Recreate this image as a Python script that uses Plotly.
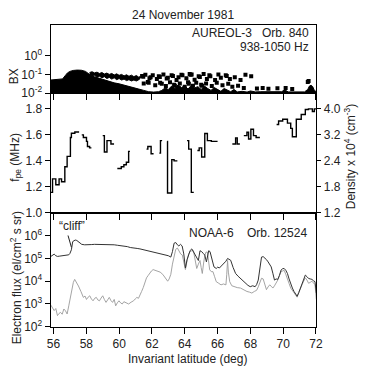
import plotly.graph_objects as go

W, H = 366, 373
def pxx(x): return x / W
def pyy(y): return 1 - y / H

FONT = "Liberation Sans, Arial, sans-serif"

# ---------------- data ----------------
lat_ticks = [56, 58, 60, 62, 64, 66, 68, 70, 72]

# Panel 1: BX intensity envelope (log10) of the solid black region
bx_lat = [55.82, 56.0, 56.3, 56.55, 56.7, 56.85, 57.0, 57.2, 57.45, 57.7, 57.95, 58.1, 58.3, 58.5,
          58.8, 59.1, 59.4, 59.7, 60.0, 60.3, 60.6, 60.9, 61.2, 61.5, 61.8, 62.1, 62.4,
          62.6, 62.8, 63.0, 63.2, 63.4, 63.6, 63.8, 64.0, 64.2, 64.4, 64.6, 64.8, 65.0,
          65.2, 65.4, 65.6, 65.8, 66.0, 66.2, 66.4, 66.6, 66.8, 67.0, 67.2, 67.5, 67.8,
          68.0, 68.3, 68.6, 69.0, 69.3, 69.6, 69.9, 70.1, 70.3, 70.6, 71.0, 71.3, 71.5,
          71.6, 71.7, 71.8, 71.9, 72.02]
bx_log = [-1.30, -1.29, -1.27, -1.24, -1.08, -0.92, -0.84, -0.79, -0.77, -0.78, -0.84, -0.93, -1.07, -1.13,
          -1.22, -1.30, -1.38, -1.45, -1.50, -1.58, -1.65, -1.72, -1.78, -1.85, -1.92, -1.94, -1.92,
          -1.85, -1.72, -1.80, -1.62, -1.75, -1.55, -1.70, -1.60, -1.78, -1.58, -1.72, -1.65, -1.80,
          -1.62, -1.75, -1.85, -1.70, -1.82, -1.90, -1.75, -1.85, -1.92, -1.80, -1.93, -1.90, -1.94,
          -1.88, -1.93, -1.92, -1.93, -1.90, -1.93, -1.92, -1.82, -1.93, -1.93, -1.92, -1.93, -1.80,
          -1.62, -1.58, -1.65, -1.85, -1.92]
# detached upper BX band (log10 bounds)
band_lat = [58.2, 58.35, 58.5, 58.65, 58.8, 58.95, 59.1, 59.25, 59.4, 59.55, 59.7, 59.85, 60.0, 60.15,
            60.3, 60.45, 60.6, 60.75, 60.9, 61.05, 61.2, 61.3]
band_hi = [-0.90, -0.86, -0.92, -0.88, -0.95, -0.90, -0.98, -0.93, -1.00, -0.95, -1.03, -0.97, -1.05, -1.00,
           -1.08, -1.02, -1.10, -1.04, -1.12, -1.06, -1.15, -1.10]
band_lo = [-1.02, -1.10, -1.05, -1.15, -1.10, -1.18, -1.12, -1.22, -1.16, -1.25, -1.18, -1.28, -1.22, -1.30,
           -1.25, -1.33, -1.28, -1.35, -1.30, -1.35, -1.28, -1.20]
# scattered BX blobs
dot_lat = [61.4, 61.47, 61.6, 61.85, 61.92, 62.05, 62.3, 62.42, 62.48, 62.7, 62.9, 62.97, 63.2, 63.28,
           63.5, 63.62, 63.8, 63.86, 64.1, 64.3, 64.36, 64.42, 64.6, 64.85, 64.92, 65.15, 65.35, 65.5,
           65.56, 65.85, 66.05, 66.2, 66.5, 66.56, 66.75, 67.05, 67.4, 67.7, 68.05,
           61.5, 61.75, 61.8, 62.2, 62.5, 62.6, 62.85, 63.1, 63.35, 63.4, 63.7, 64.0, 64.2, 64.25,
           64.5, 64.7, 65.0, 65.05, 65.3, 65.65, 65.95, 66.3, 66.65, 66.9, 67.25, 67.6, 68.4, 68.75,
           69.1, 69.65, 70.15, 70.55, 71.5, 71.55]
dot_log = [-1.08, -1.12, -1.02, -1.20, -1.15, -1.05, -1.25, -1.10, -1.14, -1.00, -1.22, -1.18, -1.05, -1.08,
           -1.30, -1.15, -1.02, -1.05, -1.20, -0.98, -1.02, -1.00, -1.28, -1.10, -1.14, -0.98, -1.25, -1.05,
           -1.10, -1.30, -1.00, -1.18, -1.05, -1.08, -1.25, -1.15, -1.30, -1.02, -1.10,
           -1.48, -1.40, -1.45, -1.58, -1.45, -1.50, -1.62, -1.42, -1.55, -1.60, -1.48, -1.65, -1.42, -1.50,
           -1.60, -1.45, -1.55, -1.60, -1.48, -1.62, -1.45, -1.58, -1.50, -1.65, -1.60, -1.72, -1.75, -1.72,
           -1.76, -1.74, -1.72, -1.78, -1.40, -1.35]

# Panel 2: f_pe step trace (None = data gap)
fpe_lat = [55.84, 55.94, 56.14, 56.34, 56.49, 56.69, 56.83, 57.03, 57.09, 57.30, 57.56, None,
           57.72, 57.82, 58.01, 58.07, 58.20, 58.31, None,
           59.00, 59.10, 59.26, 59.50, 59.69, None,
           59.89, 60.13, 60.29, 60.44, 60.58, 60.66, None,
           61.67, 61.75, 61.95, 62.10, None,
           62.45, 62.52, 62.62, None,
           62.93, 62.95, 63.21, 63.35, 63.55, None,
           64.14, 64.24, 64.40, 64.55, None,
           64.77, 64.88, 65.03, 65.22, 65.38, 65.62, 66.00, None,
           66.90, 67.10, 67.20, 67.36, None,
           67.60, 67.79, 67.89, 68.03, 68.19, 68.35, 68.58, None,
           69.60, 69.72, 69.97, 70.26, 70.46, 70.56, 70.80, 71.10, 71.35, 71.54, 71.78, 71.90, 72.02]
fpe_val = [1.158, 1.262, 1.216, 1.262, 1.240, 1.355, 1.435, 1.580, 1.612, 1.622, 1.622, None,
           1.600, 1.580, 1.550, 1.510, 1.500, 1.500, None,
           1.594, 1.468, 1.556, 1.530, 1.530, None,
           1.342, 1.355, 1.370, 1.390, 1.473, 1.473, None,
           1.490, 1.510, 1.455, 1.455, None,
           1.460, 1.556, 1.556, None,
           1.550, 1.153, 1.410, 1.400, 1.400, None,
           1.556, 1.490, 1.158, 1.158, None,
           1.480, 1.500, 1.430, 1.610, 1.556, 1.550, 1.550, None,
           1.530, 1.577, 1.530, 1.530, None,
           1.594, 1.620, 1.568, 1.643, 1.594, 1.580, 1.580, None,
           1.680, 1.707, 1.720, 1.690, 1.650, 1.586, 1.720, 1.757, 1.795, 1.800, 1.780, 1.800, 1.800]
fpe_ticks = [1.0, 1.2, 1.4, 1.6, 1.8]
fpe_ticktext = ["1.0", "1.2", "1.4", "1.6", "1.8"]
dens_ticktext = ["1.2", "1.8", "2.4", "3.2", "4.0"]

# Panel 3: electron flux (log10), solid and dotted channels
flux1_lat = [55.84, 55.94, 56.04, 56.14, 56.24, 56.35, 56.53, 56.7, 56.85, 56.93, 57.0, 57.09, 57.17,
             57.25, 57.32, 57.42, 57.52, 57.62, 57.72, 57.9, 58.11, 58.3, 58.5, 58.71, 58.9, 59.1,
             59.3, 59.5, 59.7, 59.89, 60.1, 60.3, 60.5, 60.68, 60.9, 61.1, 61.27, 61.5, 61.75,
             62.0, 62.26, 62.5, 62.7, 62.85, 63.0, 63.15, 63.25, 63.35, 63.45, 63.55, 63.64, 63.74,
             63.84, 63.94, 64.04, 64.14, 64.24, 64.33, 64.43, 64.53, 64.63, 64.73, 64.83, 64.93,
             65.03, 65.13, 65.22, 65.32, 65.46, 65.54, 65.62, 65.7, 65.78, 65.92, 66.01, 66.11,
             66.21, 66.31, 66.41, 66.51, 66.61, 66.7, 66.8, 66.95, 67.1, 67.25, 67.4, 67.55, 67.69,
             67.85, 67.99, 68.14, 68.29, 68.38, 68.48, 68.58, 68.68, 68.78, 68.88, 68.98, 69.08,
             69.18, 69.27, 69.37, 69.47, 69.57, 69.67, 69.77, 69.87, 69.97, 70.06, 70.16, 70.26,
             70.36, 70.46, 70.56, 70.66, 70.75, 70.85, 70.95, 71.05, 71.15, 71.25, 71.35, 71.45,
             71.55, 71.65, 71.75, 71.85, 71.94, 72.02]
flux1_log = [5.09, 5.15, 5.19, 5.12, 5.09, 5.10, 5.12, 5.11, 5.14, 5.16, 5.22, 5.38, 5.74,
             5.78, 5.81, 5.79, 5.74, 5.68, 5.62, 5.60, 5.59, 5.61, 5.62, 5.62, 5.63, 5.62,
             5.62, 5.61, 5.60, 5.58, 5.57, 5.54, 5.52, 5.48, 5.47, 5.44, 5.42, 5.38, 5.33,
             5.30, 5.25, 5.22, 5.19, 5.17, 5.12, 5.06, 5.30, 5.67, 5.70, 5.60, 5.55, 5.62,
             5.55, 5.20, 4.58, 4.95, 5.20, 5.35, 5.42, 5.30, 5.13, 5.05, 4.91, 5.34,
             5.30, 5.22, 5.15, 4.85, 5.34, 5.30, 5.06, 4.80, 4.63, 4.56, 4.62, 4.58,
             4.65, 4.71, 4.80, 4.88, 5.00, 4.95, 4.92, 4.60, 4.34, 4.22, 4.12, 4.02, 3.91,
             3.82, 3.76, 3.80, 3.76, 3.85, 4.05, 4.60, 5.06, 5.08, 5.02, 4.95, 4.85,
             4.72, 4.63, 4.35, 4.05, 4.10, 4.08, 4.25, 4.49, 4.55, 4.56, 4.48, 4.34,
             4.10, 3.84, 3.70, 3.55, 3.45, 3.34, 3.50, 3.70, 3.95, 4.15, 4.27, 4.20,
             4.12, 4.10, 4.08, 4.02, 3.98, 3.48]
flux2_lat = [55.84, 55.94, 56.04, 56.14, 56.24, 56.33, 56.43, 56.53, 56.63, 56.73, 56.83, 56.93,
             57.03, 57.13, 57.21, 57.29, 57.4, 57.52, 57.67, 57.82, 57.92, 58.01, 58.11, 58.21,
             58.31, 58.41, 58.51, 58.61, 58.7, 58.8, 58.9, 59.0, 59.1, 59.2, 59.3, 59.4, 59.5,
             59.6, 59.7, 59.79, 59.89, 59.99, 60.09, 60.19, 60.29, 60.39, 60.49, 60.58, 60.73,
             60.88, 60.98, 61.08, 61.18, 61.27, 61.37, 61.47, 61.57, 61.67, 61.77, 61.87, 61.97,
             62.07, 62.2, 62.36, 62.5, 62.66, 62.8, 62.96, 63.05, 63.15, 63.25, 63.35, 63.45,
             63.55, 63.65, 63.75, 63.85, 63.95, 64.04, 64.14, 64.24, 64.33, 64.43, 64.53, 64.63,
             64.73, 64.83, 64.93, 65.0, 65.07, 65.15, 65.22, 65.3, 65.38, 65.45, 65.52, 65.62,
             65.72, 65.82, 65.92, 66.05, 66.21, 66.36, 66.51, 66.56, 66.61, 66.66, 66.74, 66.87,
             67.0, 67.2, 67.4, 67.6, 67.79, 67.95, 68.09, 68.24, 68.38, 68.48, 68.58, 68.68,
             68.78, 68.88, 68.98, 69.08, 69.18, 69.27, 69.37, 69.47, 69.57, 69.67, 69.77, 69.87,
             69.97, 70.06, 70.16, 70.26, 70.36, 70.46, 70.56, 70.66, 70.75, 70.85, 70.95, 71.05,
             71.15, 71.25, 71.35, 71.45, 71.55, 71.65, 71.75, 71.85, 71.94, 72.02]
flux2_log = [2.95, 2.85, 2.71, 2.80, 2.49, 2.58, 2.63, 2.55, 2.78, 2.70, 2.56, 2.92,
             3.30, 3.72, 3.95, 4.08, 3.95, 3.79, 3.55, 3.29, 3.35, 3.20, 3.30, 3.36,
             3.22, 3.14, 3.25, 3.29, 3.18, 3.14, 3.26, 3.36, 3.20, 3.07, 3.18, 3.29, 3.15,
             3.07, 3.20, 2.92, 3.05, 3.14, 3.05, 3.00, 3.10, 3.07, 3.02, 3.00, 3.08,
             3.14, 3.22, 3.29, 3.25, 3.43, 3.55, 3.72, 3.95, 4.15, 4.25, 4.37, 4.45,
             4.51, 4.48, 4.44, 4.40, 4.30, 4.15, 4.00, 4.10, 4.30, 4.75, 5.17, 5.40,
             5.46, 5.35, 5.20, 5.15, 4.85, 4.51, 4.90, 5.20, 5.30, 5.34, 5.34, 4.90,
             4.56, 4.75, 4.91, 4.60, 4.34, 4.80, 5.13, 5.28, 5.28, 4.90, 4.50, 4.42,
             4.42, 4.20, 3.98, 3.92, 3.84, 3.88, 3.84, 4.30, 4.91, 4.40, 3.98, 3.80,
             3.76, 3.72, 3.70, 3.62, 3.55, 3.52, 3.48, 3.55, 3.60, 3.75, 3.98, 4.13,
             4.10, 3.85, 3.63, 3.75, 3.84, 3.78, 3.70, 3.80, 3.90, 4.05, 4.25, 4.42,
             4.45, 4.48, 4.30, 4.05, 3.90, 3.70, 3.60, 3.45, 3.40, 3.30, 3.50, 3.72,
             3.85, 4.00, 4.15, 4.05, 3.91, 3.95, 4.00, 3.92, 3.85, 3.20]

flux_ticks = [1e2, 1e3, 1e4, 1e5, 1e6]
flux_ticktext = ["10<sup>2</sup>", "10<sup>3</sup>", "10<sup>4</sup>", "10<sup>5</sup>", "10<sup>6</sup>"]
bx_ticks = [1e-2, 1e-1, 1e0]
bx_ticktext = ["10<sup>-2</sup>", "10<sup>-1</sup>", "10<sup>0</sup>"]

# ---------------- figure ----------------
fig = go.Figure()

# Panel 1 (top)
fig.add_trace(go.Scatter(x=bx_lat, y=[0.005] * len(bx_lat), mode="lines", line=dict(width=0, color="black"),
                         xaxis="x3", yaxis="y3", hoverinfo="skip", showlegend=False))
fig.add_trace(go.Scatter(x=bx_lat, y=[10 ** v for v in bx_log], mode="lines", fill="tonexty",
                         fillcolor="black", line=dict(width=1, color="black"),
                         xaxis="x3", yaxis="y3", showlegend=False))
fig.add_trace(go.Scatter(x=band_lat, y=[10 ** v for v in band_lo], mode="lines", line=dict(width=1, color="black"),
                         xaxis="x3", yaxis="y3", showlegend=False))
fig.add_trace(go.Scatter(x=band_lat, y=[10 ** v for v in band_hi], mode="lines", fill="tonexty",
                         fillcolor="black", line=dict(width=1, color="black"),
                         xaxis="x3", yaxis="y3", showlegend=False))
fig.add_trace(go.Scatter(x=dot_lat, y=[10 ** v for v in dot_log], mode="markers",
                         marker=dict(symbol="square", size=4, color="black"),
                         xaxis="x3", yaxis="y3", showlegend=False))

# Panel 2 (middle)
fig.add_trace(go.Scatter(x=fpe_lat, y=fpe_val, mode="lines", line=dict(width=1.4, color="black", shape="hv"),
                         connectgaps=False, xaxis="x2", yaxis="y2", showlegend=False))
# same trace on the density (right) axis, invisible, so the right axis is drawn
fig.add_trace(go.Scatter(x=fpe_lat, y=fpe_val, mode="lines", line=dict(width=0, color="rgba(0,0,0,0)"),
                         xaxis="x2", yaxis="y4", hoverinfo="skip", showlegend=False))

# Panel 3 (bottom)
fig.add_trace(go.Scatter(x=flux2_lat, y=[10 ** v for v in flux2_log], mode="lines",
                         line=dict(width=0.9, color="#9a9a9a"),
                         xaxis="x", yaxis="y", showlegend=False))
fig.add_trace(go.Scatter(x=flux1_lat, y=[10 ** v for v in flux1_log], mode="lines",
                         line=dict(width=1, color="#333333"),
                         xaxis="x", yaxis="y", showlegend=False))

xdom = [pxx(48), pxx(322)]
xcommon = dict(range=[55.82, 72.02], domain=xdom, showline=True, linecolor="black", linewidth=1,
               mirror=True, ticks="outside", ticklen=6, tickcolor="black", tickwidth=1,
               tickvals=lat_ticks, showgrid=False, zeroline=False,
               tickfont=dict(size=12, color="#222", family=FONT))
ycommon = dict(showline=True, linecolor="black", linewidth=1, mirror=True, ticks="outside",
               ticklen=5, tickcolor="black", tickwidth=1, showgrid=False, zeroline=False,
               tickfont=dict(size=12, color="#222", family=FONT))

fig.update_layout(
    width=W, height=H, margin=dict(l=0, r=0, t=0, b=0),
    paper_bgcolor="white", plot_bgcolor="white",
    font=dict(family=FONT, size=12, color="#222"),
    showlegend=False,
    xaxis=dict(xcommon, anchor="y", showticklabels=True),
    xaxis2=dict(xcommon, anchor="y2", showticklabels=False),
    xaxis3=dict(xcommon, anchor="y3", showticklabels=False),
    yaxis=dict(ycommon, type="log", range=[2, 7], domain=[pyy(333), pyy(217)], anchor="x",
               tickvals=flux_ticks, ticktext=flux_ticktext),
    yaxis2=dict(ycommon, range=[1.0, 1.92], domain=[pyy(217), pyy(95)], anchor="x2",
                tickvals=fpe_ticks, ticktext=fpe_ticktext),
    yaxis4=dict(ycommon, range=[1.0, 1.92], overlaying="y2", side="right", anchor="x2",
                tickvals=fpe_ticks, ticktext=dens_ticktext, ticklen=4),
    yaxis3=dict(ycommon, type="log", range=[-2, 1.65], domain=[pyy(95), pyy(25)], anchor="x3",
                tickvals=bx_ticks, ticktext=bx_ticktext),
)

def ann(text, x, y, angle=0, xanchor="center", size=12):
    fig.add_annotation(text=text, x=pxx(x), y=pyy(y), xref="paper", yref="paper", showarrow=False,
                       textangle=angle, xanchor=xanchor, yanchor="middle",
                       font=dict(size=size, family=FONT, color="#222"))

ann("24 November 1981", 185, 15, size=12)
ann("AUREOL-3   Orb. 840", 316, 34, xanchor="right", size=12)
ann("938-1050 Hz", 316, 48, xanchor="right", size=12)
ann("NOAA-6    Orb. 12524", 314, 237, xanchor="right", size=12)
ann("\u201ccliff\u201d", 70, 230, size=12)
ann("BX", 10, 78, angle=-90)
ann("f<sub>pe</sub> (MHz)", 12, 160, angle=-90)
ann("Density x 10<sup>4</sup> (cm<sup>-3</sup>)", 357, 160, angle=-90)
ann("Electron flux (el/cm<sup>2</sup> s sr)", 12, 283, angle=-90)
ann("Invariant latitude (deg)", 189, 366)

fig.add_shape(type="line", xref="paper", yref="paper", x0=pxx(66), y0=pyy(240), x1=pxx(69.5), y1=pyy(252),
              line=dict(color="#222", width=1))

fig.write_html("out.html")
